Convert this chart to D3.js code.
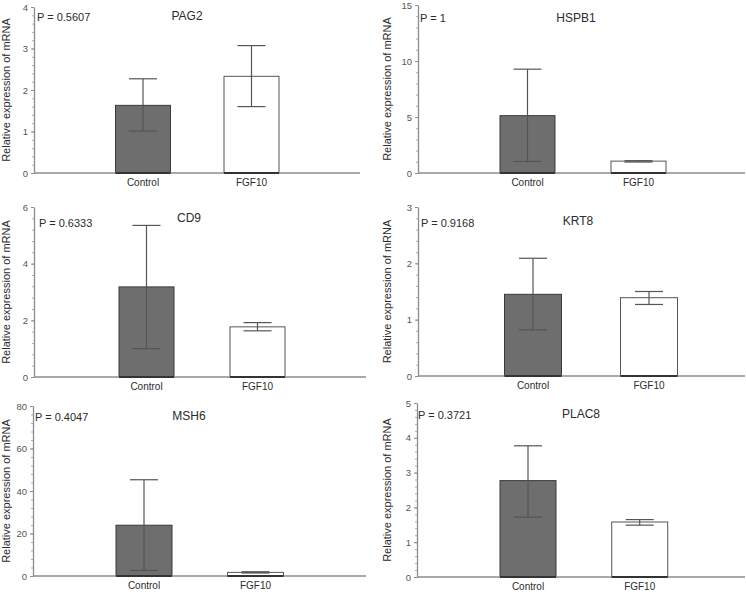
<!DOCTYPE html>
<html>
<head>
<meta charset="utf-8">
<script src="https://cdn.jsdelivr.net/npm/d3@7"></script>
<style>
  html, body { margin: 0; padding: 0; background: #fff; }
  svg { display: block; }
  text { font-family: Arial, "Liberation Sans", sans-serif; }
</style>
</head>
<body>
<svg id="chart" width="746" height="592"></svg>
<script>
// ---- data ----
const genes = ["PAG2", "HSPB1", "CD9", "KRT8", "MSH6", "PLAC8"];
const pValues = ["0.5607", "1", "0.6333", "0.9168", "0.4047", "0.3721"];
const groups = ["Control", "FGF10"];
const controlMean  = [1.63, 5.12, 3.18, 1.45, 23.9, 2.77];
const controlUpper = [2.27, 9.27, 5.35, 2.09, 45.3, 3.77];
const controlLower = [1.01, 1.03, 1.00, 0.82, 2.6, 1.72];
const fgfMean  = [2.33, 1.06, 1.77, 1.39, 1.7, 1.58];
const fgfUpper = [3.07, 1.10, 1.92, 1.50, 2.0, 1.65];
const fgfLower = [1.60, 0.98, 1.63, 1.27, 1.4, 1.49];
const yMax = [4, 15, 6, 3, 80, 5];
const yTickStep = [1, 5, 2, 1, 20, 1];
const yAxisTitle = "Relative expression of mRNA";

// ---- layout (positions only) ----
const layout = [
  {x0: 34,  x1: 360, yTop: 7,   yZero: 173, c: [143, 251.5], bw: 55, tx: 187, ty: 20,  px: 37,  py: 21,  lx: 10},
  {x0: 418, x1: 745, yTop: 5,   yZero: 173, c: [527.5, 638.5], bw: 55, tx: 576, ty: 22, px: 420, py: 22, lx: 391},
  {x0: 34,  x1: 366, yTop: 207, yZero: 377, c: [146.5, 257.5], bw: 55, tx: 189, ty: 222, px: 39, py: 227, lx: 10},
  {x0: 418, x1: 745, yTop: 207, yZero: 376, c: [533, 649], bw: 57, tx: 578, ty: 225, px: 421, py: 227, lx: 391},
  {x0: 33,  x1: 366, yTop: 406, yZero: 576, c: [144, 255.5], bw: 56, tx: 189, ty: 420, px: 35, py: 421, lx: 10},
  {x0: 417, x1: 745, yTop: 403, yZero: 577, c: [528, 639.7], bw: 56, tx: 581, ty: 418, px: 418, py: 419, lx: 391}
];

const svg = d3.select("#chart");
const axisColor = "#8c8c8c";
const textColor = "#2b2b2b";

genes.forEach((gene, i) => {
  const L = layout[i];
  const g = svg.append("g");
  const y = d3.scaleLinear().domain([0, yMax[i]]).range([L.yZero, L.yTop]);
  const x = d3.scalePoint().domain(groups).range(L.c);

  const bars = [
    {grp: "Control", mean: controlMean[i], hi: controlUpper[i], lo: controlLower[i], fill: "#6e6e6e", stroke: "#3a3a3a"},
    {grp: "FGF10", mean: fgfMean[i], hi: fgfUpper[i], lo: fgfLower[i], fill: "#ffffff", stroke: "#555555"}
  ];

  // minor ticks
  const step = yTickStep[i];
  const minor = d3.range(0, yMax[i] + 1e-9, step / 5);
  g.append("g")
    .attr("transform", `translate(${L.x0},0)`)
    .call(d3.axisLeft(y).tickValues(minor).tickSize(2).tickFormat(""))
    .call(a => a.select(".domain").remove())
    .call(a => a.selectAll("line").attr("stroke", "#b0b0b0"));

  // major axis
  const ax = g.append("g")
    .attr("transform", `translate(${L.x0},0)`)
    .call(d3.axisLeft(y).tickValues(d3.range(0, yMax[i] + 1e-9, step))
      .tickFormat(d3.format("d")).tickSize(3).tickSizeOuter(0).tickPadding(3));
  ax.select(".domain").attr("stroke", axisColor).attr("stroke-width", 1.3);
  ax.selectAll(".tick line").attr("stroke", axisColor);
  ax.selectAll(".tick text").attr("fill", "#555").style("font-size", "9.5px");

  // bars
  g.selectAll("rect.bar").data(bars).join("rect")
    .attr("class", "bar")
    .attr("x", d => x(d.grp) - L.bw / 2)
    .attr("width", L.bw)
    .attr("y", d => y(d.mean))
    .attr("height", d => y(0) - y(d.mean))
    .attr("fill", d => d.fill)
    .attr("stroke", d => d.stroke)
    .attr("stroke-width", 1);

  // x axis line
  g.append("line")
    .attr("x1", L.x0).attr("x2", L.x1)
    .attr("y1", y(0)).attr("y2", y(0))
    .attr("stroke", axisColor).attr("stroke-width", 1.5);

  // dark base under bars
  g.selectAll("line.base").data(bars).join("line")
    .attr("class", "base")
    .attr("x1", d => x(d.grp) - L.bw / 2).attr("x2", d => x(d.grp) + L.bw / 2)
    .attr("y1", y(0)).attr("y2", y(0))
    .attr("stroke", "#333").attr("stroke-width", 1.8);

  // error bars
  const cap = 28;
  const eb = g.selectAll("g.err").data(bars).join("g").attr("class", "err");
  eb.append("line")
    .attr("x1", d => x(d.grp)).attr("x2", d => x(d.grp))
    .attr("y1", d => y(d.hi)).attr("y2", d => y(d.lo))
    .attr("stroke", "#555").attr("stroke-width", 1.2);
  eb.append("line")
    .attr("x1", d => x(d.grp) - cap / 2).attr("x2", d => x(d.grp) + cap / 2)
    .attr("y1", d => y(d.hi)).attr("y2", d => y(d.hi))
    .attr("stroke", "#555").attr("stroke-width", 1.2);
  eb.append("line")
    .attr("x1", d => x(d.grp) - cap / 2).attr("x2", d => x(d.grp) + cap / 2)
    .attr("y1", d => y(d.lo)).attr("y2", d => y(d.lo))
    .attr("stroke", "#555").attr("stroke-width", 1.2);

  // category labels
  g.selectAll("text.cat").data(groups).join("text")
    .attr("class", "cat")
    .attr("x", d => x(d))
    .attr("y", L.yZero + 13)
    .attr("text-anchor", "middle")
    .attr("fill", textColor)
    .style("font-size", "10px")
    .text(d => d);

  // title
  g.append("text")
    .attr("x", L.tx).attr("y", L.ty)
    .attr("text-anchor", "middle")
    .attr("fill", textColor)
    .style("font-size", "12px")
    .text(gene);

  // p value
  g.append("text")
    .attr("x", L.px).attr("y", L.py)
    .attr("fill", textColor)
    .style("font-size", "11px")
    .text("P = " + pValues[i]);

  // y title
  g.append("text")
    .attr("transform", `translate(${L.lx},${(L.yTop + L.yZero) / 2}) rotate(-90)`)
    .attr("text-anchor", "middle")
    .attr("fill", textColor)
    .style("font-size", "11px")
    .text(yAxisTitle);
});
</script>
</body>
</html>
